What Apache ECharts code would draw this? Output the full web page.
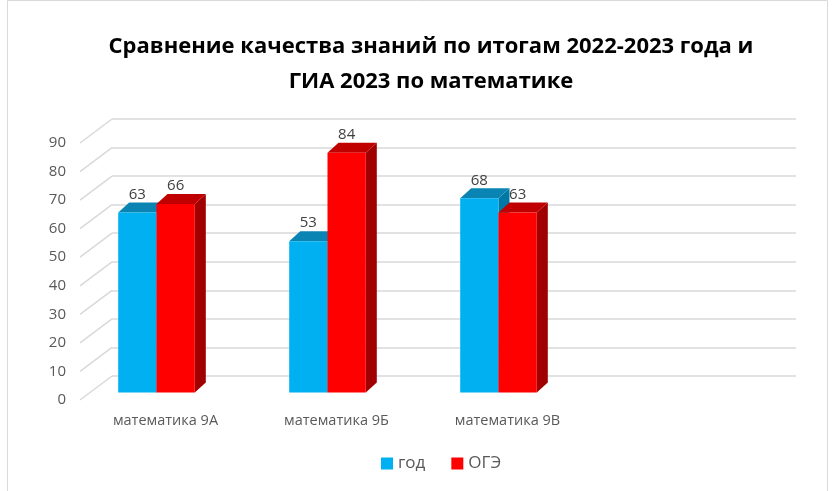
<!DOCTYPE html>
<html><head><meta charset="utf-8">
<script src="https://cdn.jsdelivr.net/npm/echarts@6/dist/echarts.min.js"></script>
<style>html,body{margin:0;padding:0;background:#fff}#c{width:835px;height:491px}</style>
</head><body><div id="c"></div>
<script>
const categories = ['математика 9А', 'математика 9Б', 'математика 9В'];
const seriesNames = ['год', 'ОГЭ'];
const godValues = [63, 53, 68];
const ogeValues = [66, 84, 63];
const yTicks = [0, 10, 20, 30, 40, 50, 60, 70, 80, 90];

const FONT = '"Open Sans", "Noto Sans", sans-serif';
const DX = 32, DY = -24;        // depth of the back wall
const BX = -9, BY = -7.5;       // bar plane shift
const SX = 11, SY = -10;        // bar depth
const colors = [
  {front: '#00B0F0', top: '#0A85B3', side: '#0078A6'},
  {front: '#FF0000', top: '#C00000', side: '#A00000'}
];
const axisCats = categories.concat(['']);

function barRender(sIdx) {
  return function (params, api) {
    const idx = api.value(0), val = api.value(1);
    const p0 = api.coord([idx, 0]);
    const p1 = api.coord([idx, val]);
    const band = api.size([1, 0])[0];
    const w = band * 0.224;
    const cx = p0[0] + BX;
    const x0 = sIdx === 0 ? cx - w : cx;
    const x1 = x0 + w;
    const yb = p0[1] + BY, yt = p1[1] + BY;
    const c = colors[sIdx];
    return {
      type: 'group',
      children: [
        {type: 'polygon', shape: {points: [[x1, yb], [x1 + SX, yb + SY], [x1 + SX, yt + SY], [x1, yt]]}, style: {fill: c.side}},
        {type: 'polygon', shape: {points: [[x0, yt], [x0 + SX, yt + SY], [x1 + SX, yt + SY], [x1, yt]]}, style: {fill: c.top}},
        {type: 'rect', shape: {x: x0, y: yt, width: w, height: yb - yt}, style: {fill: c.front}},
        {type: 'text', x: (x0 + x1) / 2, y: yt - 18, style: {text: String(val), fill: '#404040', font: '15px ' + FONT, align: 'center', verticalAlign: 'middle'}}
      ]
    };
  };
}

const chart = echarts.init(document.getElementById('c'), null, {renderer: 'canvas'});
chart.setOption({
  animation: false,
  textStyle: {fontFamily: FONT},
  graphic: [{type: 'rect', z: -10, shape: {x: 7.5, y: 0.5, width: 820, height: 495}, style: {fill: 'none', stroke: '#d9d9d9', lineWidth: 1}}],
  title: {
    text: 'Сравнение качества знаний по итогам 2022-2023 года и\nГИА 2023 по математике',
    left: 426, textAlign: 'center', top: 24,
    textStyle: {fontFamily: FONT, fontSize: 22, fontWeight: 'bold', color: '#000', lineHeight: 35}
  },
  legend: {
    data: seriesNames, top: 450, left: 376, itemGap: 26,
    icon: 'rect', itemWidth: 12, itemHeight: 12,
    textStyle: {fontFamily: FONT, fontSize: 17, color: '#595959'}
  },
  grid: [
    {left: 80, right: 71, top: 143, bottom: 91},
    {left: 80 + DX, right: 71 - DX, top: 143 + DY, bottom: 91 - DY}
  ],
  xAxis: [
    {type: 'category', gridIndex: 0, data: axisCats, axisLine: {show: false}, axisTick: {show: false},
     axisLabel: {fontFamily: FONT, fontSize: 14.5, color: '#595959', margin: 13, interval: 0}},
    {type: 'category', gridIndex: 1, data: axisCats, show: false}
  ],
  yAxis: [
    {type: 'value', gridIndex: 0, min: 0, max: 90, interval: 10, splitLine: {show: false},
     axisLine: {show: false}, axisTick: {show: false},
     axisLabel: {fontFamily: FONT, fontSize: 15, color: '#595959', margin: 14}},
    {type: 'value', gridIndex: 1, min: 0, max: 90, interval: 10, axisLabel: {show: false},
     axisLine: {show: false}, axisTick: {show: false},
     splitLine: {show: true, lineStyle: {color: '#d9d9d9', width: 1.5}}}
  ],
  series: [
    {
      type: 'custom', name: 'diag', xAxisIndex: 0, yAxisIndex: 0, silent: true, z: 1,
      data: yTicks.map(v => [0, v]),
      renderItem: function (params, api) {
        const p = api.coord([0, api.value(1)]);
        const x = params.coordSys.x;
        return {type: 'line', shape: {x1: x, y1: p[1], x2: x + DX, y2: p[1] + DY}, style: {stroke: '#d9d9d9', lineWidth: 1.5}};
      }
    },
    {
      type: 'custom', name: seriesNames[0], xAxisIndex: 0, yAxisIndex: 0, z: 3,
      itemStyle: {color: colors[0].front},
      data: godValues.map((v, i) => [i, v]),
      renderItem: barRender(0)
    },
    {
      type: 'custom', name: seriesNames[1], xAxisIndex: 0, yAxisIndex: 0, z: 4,
      itemStyle: {color: colors[1].front},
      data: ogeValues.map((v, i) => [i, v]),
      renderItem: barRender(1)
    }
  ]
});
</script></body></html>
